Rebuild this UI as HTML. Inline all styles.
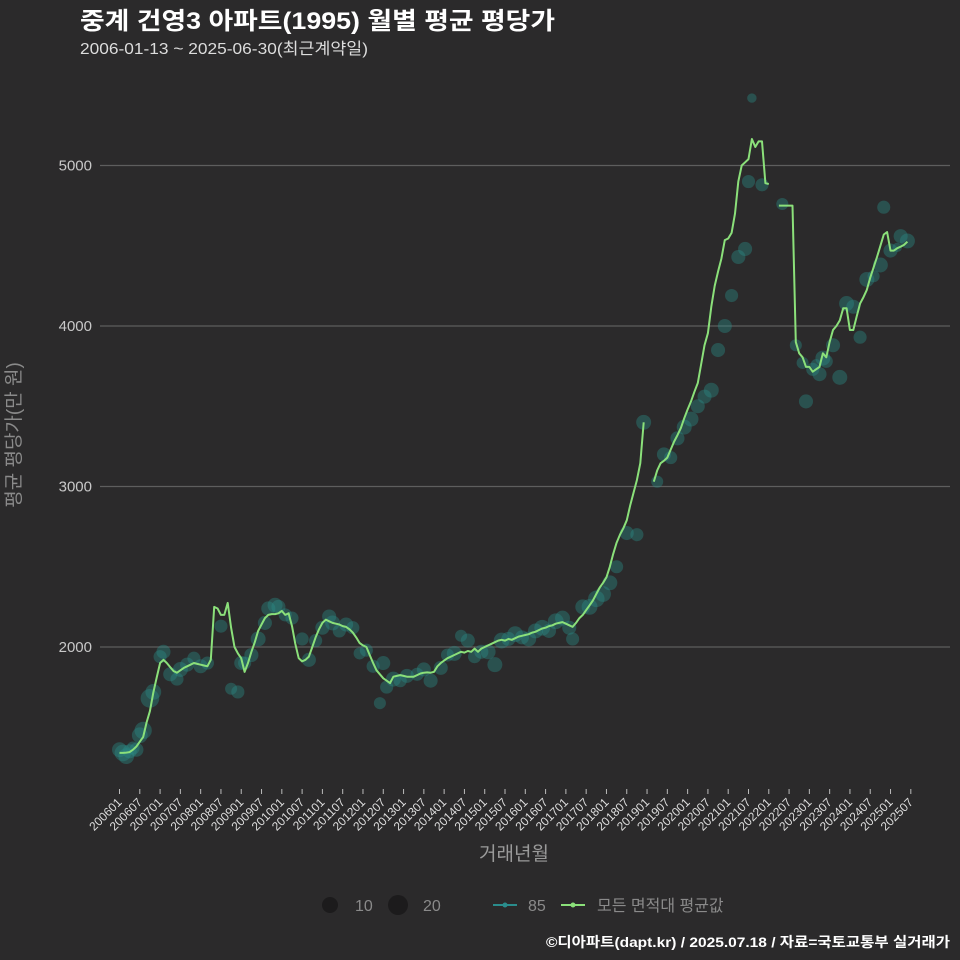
<!DOCTYPE html>
<html><head><meta charset="utf-8">
<style>
html,body{margin:0;padding:0;background:#2b2a2b;}
svg{display:block;font-family:"Liberation Sans","Noto Sans CJK KR",sans-serif;}
</style></head>
<body>
<svg id="chart" width="960" height="960" viewBox="0 0 960 960" xmlns="http://www.w3.org/2000/svg">
<rect width="960" height="960" fill="#2b2a2b"/>
<text x="80" y="29" fill="#ffffff" font-size="24" font-weight="bold" textLength="475" lengthAdjust="spacingAndGlyphs">중계 건영3 아파트(1995) 월별 평균 평당가</text>
<text x="80" y="54" fill="#dddddd" font-size="16" textLength="288" lengthAdjust="spacingAndGlyphs">2006-01-13 ~ 2025-06-30(최근계약일)</text>
<g id="grid"></g>
<g id="yticks"></g>
<g id="xticks"></g>
<g id="bubbles"></g>
<g id="lines"></g>
<text transform="translate(20,435) rotate(-90)" text-anchor="middle" fill="#8a8a8a" font-size="19">평균 평당가(만 원)</text>
<text x="514" y="860" text-anchor="middle" fill="#9a9a9a" font-size="19">거래년월</text>
<g font-size="16" fill="#8a8a8a">
 <circle cx="330" cy="905" r="8" fill="#1c1b1c"/>
 <text x="355" y="911">10</text>
 <circle cx="398" cy="905" r="10" fill="#1c1b1c"/>
 <text x="423" y="911">20</text>
 <line x1="493" y1="905" x2="517" y2="905" stroke="#2a8c8c" stroke-width="2"/>
 <circle cx="505" cy="905" r="2.5" fill="#2a8c8c"/>
 <text x="528" y="911">85</text>
 <line x1="561" y1="905" x2="585" y2="905" stroke="#8be07a" stroke-width="2"/>
 <circle cx="573" cy="905" r="2.5" fill="#8be07a"/>
 <text x="597" y="911">모든 면적대 평균값</text>
</g>
<text x="950" y="947" text-anchor="end" fill="#ffffff" font-size="14" font-weight="bold" textLength="404" lengthAdjust="spacingAndGlyphs">©디아파트(dapt.kr) / 2025.07.18 / 자료=국토교통부 실거래가</text>
</svg>
<script>
const yTicks = [2000, 3000, 4000, 5000];
const avgValues = [
1340,1340,1342,1345,1360,1380,1410,1440,1530,1600,1715,1810,
1900,1920,1900,1875,1850,1840,1855,1870,1880,1890,1900,1895,
1890,1885,1880,1920,2250,2240,2200,2200,2275,2120,2000,1960,
1930,1845,1900,1970,2030,2100,2140,2180,2200,2205,2205,2210,
2225,2200,2210,2130,2020,1930,1910,1920,1940,2000,2060,2110,
2150,2170,2160,2150,2145,2140,2130,2125,2110,2090,2060,2025,
2010,2000,1950,1900,1855,1830,1805,1790,1775,1815,1820,1825,
1820,1815,1815,1815,1825,1835,1840,1842,1840,1845,1880,1900,
1915,1930,1940,1950,1960,1970,1965,1975,1970,1990,1970,1990,
2000,2010,2020,2030,2040,2045,2040,2050,2045,2055,2065,2070,
2075,2080,2090,2095,2105,2115,2120,2130,2135,2145,2150,2155,
2145,2135,2125,2150,2180,2200,2230,2260,2290,2330,2370,2400,
2435,2500,2580,2650,2700,2740,2790,2880,2960,3040,3145,3400,
null,null,3030,3100,3145,3160,3180,3230,3280,3320,3365,3425,
3480,3530,3590,3645,3760,3880,3955,4120,4250,4340,4420,4535,
4545,4580,4700,4900,5000,5020,5040,5165,5115,5150,5150,4890,
4885,null,null,4750,4750,4750,4750,4750,3900,3830,3805,3745,
3745,3715,3730,3745,3830,3805,3900,3975,4000,4035,4110,4110,
3975,3975,4060,4140,4180,4225,4300,4365,4430,4500,4570,4585,
4470,4470,4485,4495,4505,4525];
// bubble data: month index (from 2006-01), price, count
const bubbleMonths = [0,1,2,3,4,5,6,7,9,10,12,13,15,17,18,20,22,24,26,30,33,35,36,37,39,41,43,44,46,47,49,51,54,56,58,60,62,63,65,67,69,71,73,75,77,78,79,81,83,85,88,90,92,95,97,99,101,103,105,107,109,111,113,115,117,119,121,123,125,127,129,131,133,134,137,139,141,143,145,147,150,153,155,159,161,163,165,167,169,171,173,175,177,179,181,183,185,186,187,190,196,200,202,203,205,206,207,208,209,211,213,215,217,219,221,223,225,226,228,230,231,233];
const bubblePrices = [1360,1340,1320,1350,1370,1360,1450,1480,1680,1720,1940,1970,1830,1800,1860,1890,1930,1880,1900,2130,1740,1720,1900,1900,1950,2050,2150,2240,2260,2250,2200,2180,2050,1920,2040,2120,2190,2150,2100,2140,2120,1960,1980,1880,1650,1900,1750,1800,1790,1820,1830,1860,1790,1870,1950,1960,2070,2040,1940,1970,1970,1890,2040,2050,2080,2060,2050,2100,2120,2100,2160,2180,2120,2050,2250,2250,2300,2330,2400,2500,2710,2700,3400,3030,3200,3180,3300,3370,3420,3500,3560,3600,3850,4000,4190,4430,4480,4900,5420,4880,4760,3880,3770,3530,3730,3760,3700,3800,3780,3880,3680,4140,4120,3930,4290,4310,4380,4740,4470,4490,4560,4530];
const bubbleCounts = [14,18,16,12,10,12,16,20,24,16,10,12,12,10,14,12,10,12,10,10,8,10,12,10,12,14,12,12,14,12,10,10,10,12,10,12,12,14,10,12,10,8,10,10,8,12,10,14,10,12,10,12,12,12,10,14,8,12,10,12,14,14,16,12,16,12,14,14,16,12,16,14,12,10,14,16,18,16,14,10,12,10,14,8,12,10,12,14,14,12,12,14,12,12,10,12,12,10,4,10,8,8,8,12,10,6,12,14,10,12,14,14,12,10,14,8,14,10,12,4,12,14];

const NS = "http://www.w3.org/2000/svg";
function xScale(m){ return 119.5 + m * 20.29 / 6; }
function yScale(v){ return 647 - (v - 2000) * 0.1605; }
function rScale(n){ return 1.5 + Math.sqrt(n) * 1.6; }

const grid = document.getElementById('grid');
const yg = document.getElementById('yticks');
yTicks.forEach(t => {
  const l = document.createElementNS(NS, 'line');
  l.setAttribute('x1', 100); l.setAttribute('x2', 950);
  l.setAttribute('y1', yScale(t)); l.setAttribute('y2', yScale(t));
  l.setAttribute('stroke', '#5e5e5e'); l.setAttribute('stroke-width', '1.2');
  
  
  grid.appendChild(l);
  const tx = document.createElementNS(NS, 'text');
  tx.setAttribute('x', 92); tx.setAttribute('y', yScale(t) + 5);
  tx.setAttribute('text-anchor', 'end'); tx.setAttribute('fill', '#c8c8c8');
  tx.setAttribute('font-size', '15');
  tx.textContent = t;
  
  
  yg.appendChild(tx);
});

const xg = document.getElementById('xticks');
for (let k = 0; k <= 39; k++) {
  const m = k * 6;
  const yr = 2006 + Math.floor(m / 12);
  const mo = (m % 12) + 1;
  const lab = yr + (mo < 10 ? '0' : '') + mo;
  const x = xScale(m);
  const l = document.createElementNS(NS, 'line');
  l.setAttribute('x1', x); l.setAttribute('x2', x);
  l.setAttribute('y1', 789); l.setAttribute('y2', 794);
  l.setAttribute('stroke', '#bbbbbb');
  
  
  xg.appendChild(l);
  const tx = document.createElementNS(NS, 'text');
  tx.setAttribute('transform', 'translate(' + (x + 3) + ',803) rotate(-45)');
  tx.setAttribute('text-anchor', 'end'); tx.setAttribute('fill', '#dddddd');
  tx.setAttribute('font-size', '12');
  tx.textContent = lab;
  
  
  xg.appendChild(tx);
}

const bg = document.getElementById('bubbles');
bubbleMonths.forEach((m, i) => {
  const c = document.createElementNS(NS, 'circle');
  c.setAttribute('cx', xScale(m)); c.setAttribute('cy', yScale(bubblePrices[i]));
  c.setAttribute('r', rScale(bubbleCounts[i]));
  c.setAttribute('fill', 'rgba(42,140,135,0.4)');
  
  
  bg.appendChild(c);
});

const lg = document.getElementById('lines');
let segs = [], cur = [];
avgValues.forEach((v, m) => {
  if (v === null) { if (cur.length) segs.push(cur); cur = []; }
  else cur.push(xScale(m).toFixed(1) + ',' + yScale(v).toFixed(1));
});
if (cur.length) segs.push(cur);
segs.forEach(s => {
  const p = document.createElementNS(NS, 'polyline');
  p.setAttribute('points', s.join(' '));
  p.setAttribute('fill', 'none'); p.setAttribute('stroke', '#8be07a');
  p.setAttribute('stroke-width', '2'); p.setAttribute('stroke-linejoin', 'round');
  
  
  lg.appendChild(p);
});
</script>
</body></html>
